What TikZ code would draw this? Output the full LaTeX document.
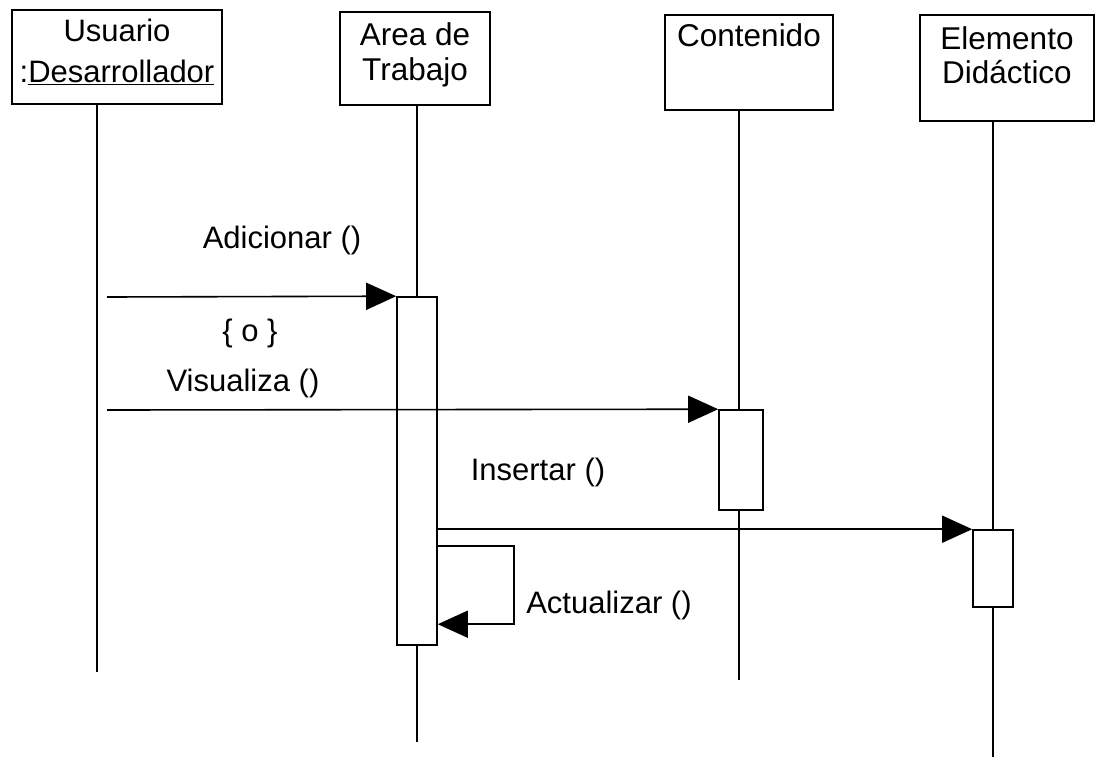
\documentclass[tikz,border=0pt]{standalone}
\usepackage{fontspec}
\setmainfont{Liberation Sans}
\usepackage{tikz}
\usetikzlibrary{positioning,arrows.meta,calc}

\begin{document}
\begin{tikzpicture}[x=1pt, y=-1pt,
  objeto/.style={draw, line width=1.6pt, inner sep=0pt},
  titulo/.style={anchor=north, inner sep=3pt, align=center,
                 font=\fontsize{31.5}{36}\selectfont},
  activa/.style={draw, line width=1.6pt, fill=white, inner sep=0pt,
                 minimum width=40pt},
  vida/.style={line width=1.3pt},
  mensaje/.style={line width=1.6pt, -{Triangle[length=30pt, width=27pt]}},
  etiqueta/.style={font=\fontsize{31}{36}\selectfont}]
  \useasboundingbox (0,0) rectangle (1096,761);
  % objetos
  \node[objeto, minimum width=210pt, minimum height=94pt,
        label={[titulo, yshift=-7pt, font=\fontsize{31}{41}\selectfont]north:Usuario\\:\underline{Desarrollador}}] (usr) at (117,57) {};
  \node[objeto, minimum width=150pt, minimum height=93pt,
        label={[titulo, yshift=-8pt, font=\fontsize{31.5}{35}\selectfont]north:Area de\\Trabajo}] (area) at (415,58.5) {};
  \node[objeto, minimum width=168pt, minimum height=95pt,
        label={[titulo, yshift=-6pt]north:Contenido}] (cont) at (749,62.5) {};
  \node[objeto, minimum width=174pt, minimum height=106pt,
        label={[titulo, yshift=-9pt, font=\fontsize{31.5}{34}\selectfont]north:Elemento\\Didáctico}] (elem) at (1007,68) {};
  % lineas de vida
  \coordinate (usrFin) at (97,672);
  \coordinate (areaFin) at (417,742);
  \coordinate (contFin) at (739,680);
  \coordinate (elemFin) at (993,757);
  \draw[vida] (usrFin |- usr.south) -- (usrFin);
  \draw[vida] (areaFin |- area.south) -- (areaFin);
  \draw[vida] (contFin |- cont.south) -- (contFin);
  \draw[vida] (elemFin |- elem.south) -- (elemFin);
  % activaciones
  \node[activa, minimum height=348pt] (actA) at (417,471) {};
  \node[activa, minimum width=44pt, minimum height=100pt] (actC) at (741,460) {};
  \node[activa, minimum height=77pt] (actE) at (993,568.5) {};
  % mensajes
  \coordinate (m1) at (107,297);
  \coordinate (m2) at (107,410);
  \draw[mensaje] (m1) -- (actA.north west);
  \draw[mensaje] (m2) -- (actC.north west);
  \draw[mensaje] (actA.east |- actE.north) -- (actE.north west);
  \draw[mensaje] ([yshift=-250pt]actA.north east) -- ++(76,0)
    |- ([yshift=-328pt]actA.north east);
  \node[etiqueta] (adic) at (282,240) {Adicionar ()};
  \node[etiqueta] (opc) at (250,333) {\{ o \}};
  \node[etiqueta] (visu) at (243,383) {Visualiza ()};
  \node[etiqueta] (inser) at (538,472) {Insertar ()};
  \node[etiqueta] (actu) at (609,605) {Actualizar ()};
\end{tikzpicture}
\end{document}
